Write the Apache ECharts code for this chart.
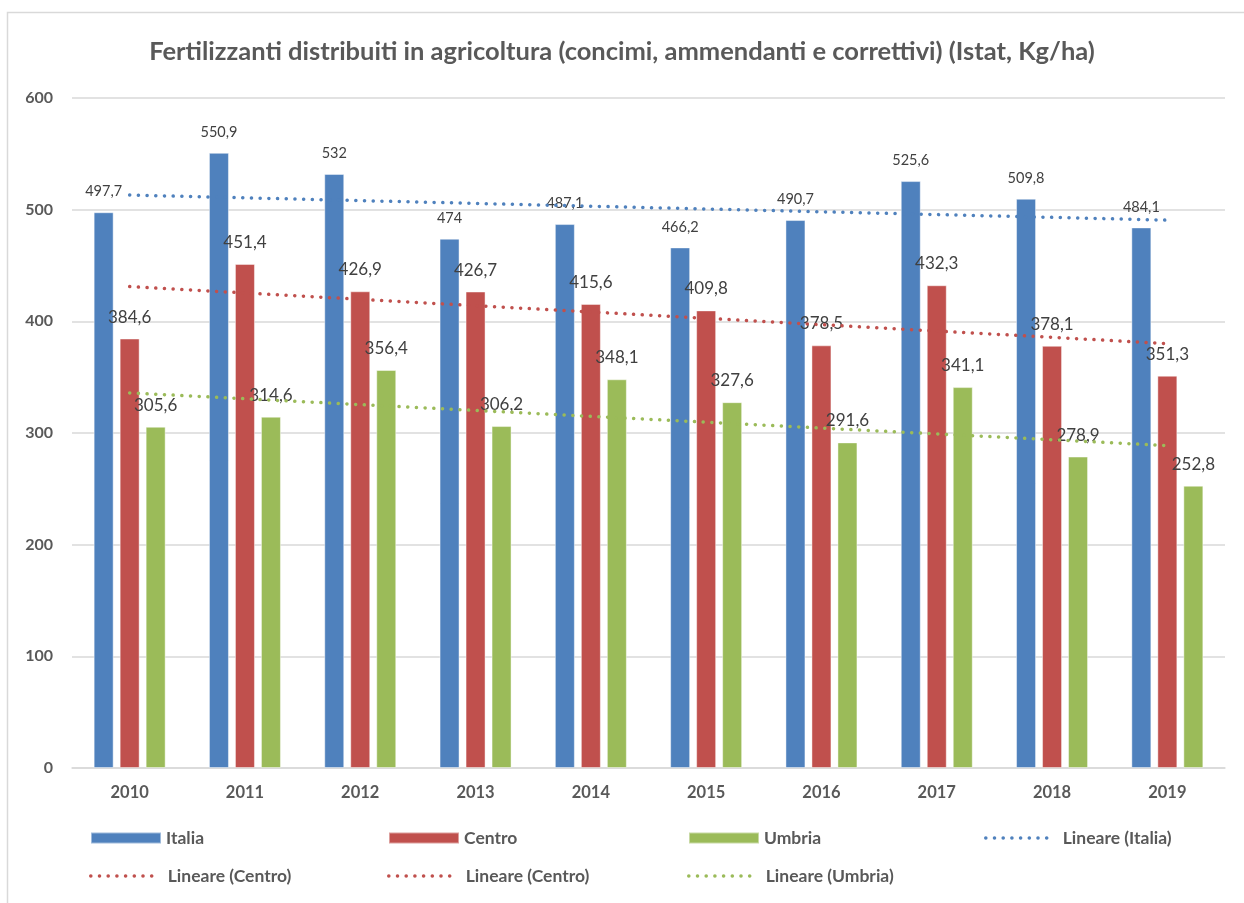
<!DOCTYPE html>
<html>
<head>
<meta charset="utf-8">
<script src="https://cdn.jsdelivr.net/npm/echarts@6/dist/echarts.min.js"></script>
<style>
  html, body { margin: 0; padding: 0; background: #fff; }
  #chart { width: 1244px; height: 903px; }
</style>
</head>
<body>
<div id="chart"></div>
<script>
// anni
const years = ['2010', '2011', '2012', '2013', '2014', '2015', '2016', '2017', '2018', '2019']
// valori Kg/ha
const italia = [497.7, 550.9, 532, 474, 487.1, 466.2, 490.7, 525.6, 509.8, 484.1]
const centro = [384.6, 451.4, 426.9, 426.7, 415.6, 409.8, 378.5, 432.3, 378.1, 351.3]
const umbria = [305.6, 314.6, 356.4, 306.2, 348.1, 327.6, 291.6, 341.1, 278.9, 252.8]
// linee di tendenza
const trendItalia = [513.1, 510.6, 508.1, 505.6, 503.1, 500.6, 498.1, 495.6, 493.1, 490.6]
const trendCentro = [431.1, 425.4, 419.7, 414.0, 408.4, 402.7, 397.0, 391.3, 385.7, 380.0]
const trendUmbria = [335.9, 330.7, 325.4, 320.2, 314.9, 309.7, 304.4, 299.2, 294.0, 288.7]
const yTicks = [0, 100, 200, 300, 400, 500, 600]

const FONT = 'Lato'
const textGray = '#595959'
const fmt = (v) => String(v).replace('.', ',')
const dotted = [0.1, 8.6]

const barSeries = (name, data, color, size, dist) => ({
  name,
  type: 'bar',
  data,
  barWidth: 20,
  barGap: '30%',
  itemStyle: { color, borderColor: 'rgba(255,255,255,0.45)', borderWidth: 1 },
  label: {
    show: true,
    position: 'top',
    distance: dist,
    color: '#404040',
    fontFamily: FONT,
    fontSize: size,
    formatter: (p) => fmt(p.value)
  }
})

const trendSeries = (name, data, color) => ({
  name,
  type: 'line',
  data,
  symbol: 'none',
  z: 5,
  lineStyle: { color, width: 3.5, type: dotted, cap: 'round' },
  itemStyle: { color }
})

// una legenda per voce, per avere le colonne come nell'originale
const legendItem = (name, left, top, isLine) => ({
  data: [isLine ? { name, itemStyle: { color: 'transparent', borderWidth: 0 } } : { name, icon: 'rect' }],
  left,
  top,
  padding: 0,
  itemWidth: isLine ? 63 : 70,
  itemHeight: 11,
  selectedMode: false,
  lineStyle: { width: 3.5, type: dotted, cap: 'round' },
  textStyle: {
    color: textGray,
    fontFamily: FONT,
    fontWeight: 'bold',
    fontSize: 17.5,
    padding: isLine ? [0, 0, 0, 9] : 0
  }
})

const option = {
  animation: false,
  backgroundColor: '#fff',
  title: {
    text: 'Fertilizzanti distribuiti in agricoltura (concimi, ammendanti e correttivi) (Istat, Kg/ha)',
    left: 'center',
    top: 34,
    textStyle: { color: textGray, fontFamily: FONT, fontWeight: 'bold', fontSize: 25.5 }
  },
  graphic: [{
    type: 'rect',
    shape: { x: 7.5, y: 12.5, width: 1300, height: 1000 },
    style: { fill: 'none', stroke: '#d9d9d9', lineWidth: 1.5 },
    silent: true
  }],
  legend: [
    legendItem('Italia', 90, 829, false),
    legendItem('Centro', 388, 829, false),
    legendItem('Umbria', 688, 829, false),
    legendItem('Lineare (Italia)', 984, 829, true),
    legendItem('Lineare (Centro)', 89, 867, true),
    legendItem('Lineare (Centro)', 387, 867, true),
    legendItem('Lineare (Umbria)', 687, 867, true)
  ],
  grid: { left: 72, right: 19, top: 98, bottom: 135 },
  xAxis: {
    type: 'category',
    data: years,
    axisTick: { show: false },
    axisLine: { lineStyle: { color: '#d9d9d9', width: 1.5 } },
    axisLabel: { color: textGray, fontFamily: FONT, fontWeight: 'bold', fontSize: 16.5, margin: 16 }
  },
  yAxis: {
    type: 'value',
    min: yTicks[0],
    max: yTicks[yTicks.length - 1],
    interval: 100,
    axisLine: { show: false },
    axisTick: { show: false },
    splitLine: { lineStyle: { color: '#d9d9d9', width: 1.5 } },
    axisLabel: { color: textGray, fontFamily: FONT, fontWeight: 'bold', fontSize: 16, margin: 19 }
  },
  series: [
    barSeries('Italia', italia, '#4f81bd', 14.5, 13),
    barSeries('Centro', centro, '#c0504d', 17, 13),
    barSeries('Umbria', umbria, '#9bbb59', 17, 13),
    trendSeries('Lineare (Italia)', trendItalia, '#4f81bd'),
    trendSeries('Lineare (Centro)', trendCentro, '#c0504d'),
    trendSeries('Lineare (Umbria)', trendUmbria, '#9bbb59')
  ]
}

const myChart = echarts.init(document.getElementById('chart'))
option && myChart.setOption(option)
</script>
</body>
</html>
